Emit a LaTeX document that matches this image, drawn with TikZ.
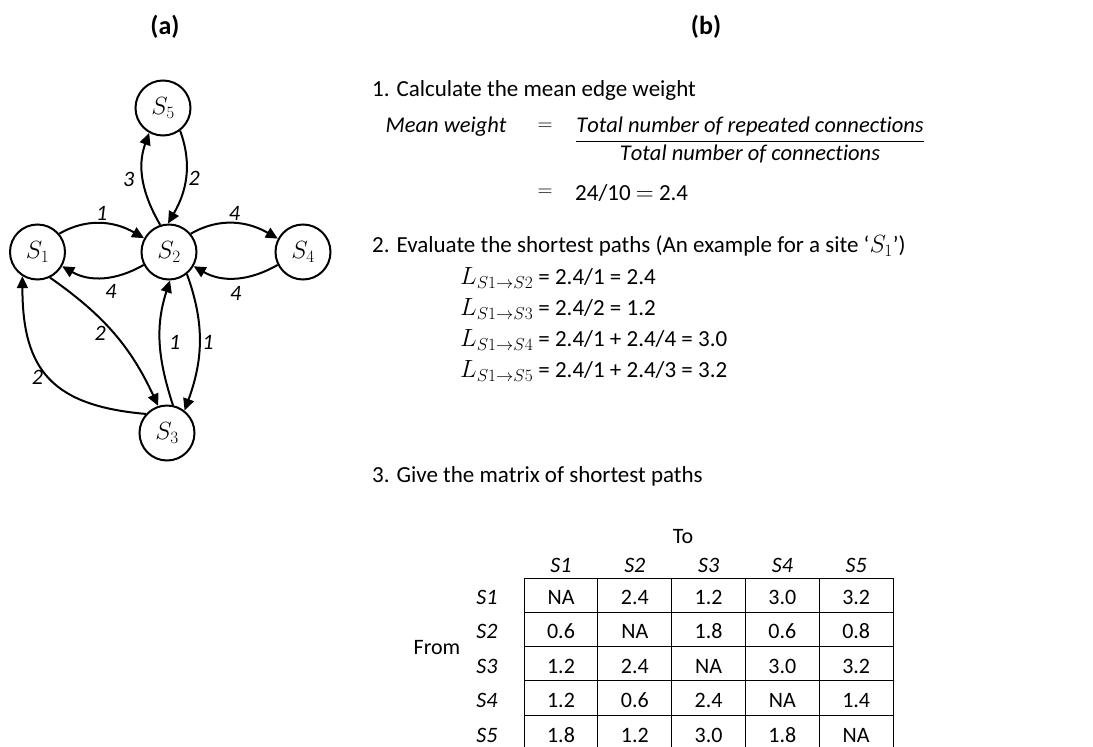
\documentclass[tikz,border=0pt]{standalone}
\usepackage{fontspec}
\setmainfont{Carlito}
\usetikzlibrary{arrows.meta}

\tikzset{
  site/.style={draw, circle, line width=2pt, minimum size=55pt, inner sep=0pt, font=\fontsize{27}{31}\selectfont},
  link/.style={-{Triangle[length=12pt,width=11pt]}, line width=2pt},
  wt/.style={font=\fontsize{22}{26}\selectfont\itshape, inner sep=2pt},
  txt/.style={anchor=west, inner sep=0pt, font=\fontsize{23}{27}\selectfont},
  eqn/.style={inner sep=0pt, font=\fontsize{22.5}{27}\selectfont},
  cell/.style={inner sep=0pt, font=\fontsize{22}{26}\selectfont},
  hdr/.style={inner sep=0pt, font=\fontsize{22}{26}\selectfont\itshape},
  panel/.style={font=\fontsize{26}{30}\selectfont\bfseries}
}

\begin{document}
\begin{tikzpicture}[x=1pt,y=-1pt]
  \useasboundingbox (0,0) rectangle (1093,747);

  \node[panel] (pa) at (165,27) {(a)};
  \node[panel] (pb) at (706,27) {(b)};

  \node[site] (s1) at (37.5,252) {$S_1$};
  \node[site] (s2) at (169,252) {$S_2$};
  \node[site] (s3) at (167,433) {$S_3$};
  \node[site] (s4) at (303,252) {$S_4$};
  \node[site] (s5) at (163,108) {$S_5$};

  \draw[link] (s1.40) to[out=30,in=150] node[wt,above]{1} (s2.151);
  \draw[link] (s2.-153) to[out=-150,in=-30] node[wt,below=5pt,pos=0.4]{4} (s1.-30);
  \draw[link] (s2.40) to[out=30,in=150] node[wt,above]{4} (s4.152);
  \draw[link] (s4.-153) to[out=-150,in=-30] node[wt,below=5pt]{4} (s2.-30);
  \draw[link] (s2.108) to[out=120,in=-110] node[wt,left=6pt]{3} (s5.-119);
  \draw[link] (s5.-53) to[out=-70,in=60] node[wt,right]{2} (s2.92);
  \draw[link] (s1.-64) to[out=-35,in=115] node[wt,left=5pt]{2} (s3.108);
  \draw[link] (s3.138) to[out=175,in=-90,looseness=1.3] node[wt,left=3pt]{2} (s1.-122);
  \draw[link] (s3.78) to[out=108,in=-108] node[wt,right=6pt]{1} (s2.-88);
  \draw[link] (s2.-51) to[out=-70,in=70] node[wt,right]{1} (s3.52);

  \node[txt] (st1) at (372,90) {1. Calculate the mean edge weight};
  \node[eqn] (mw) at (446,127) {$\mathit{Mean\ weight}$};
  \node[eqn] (eq1) at (545,127) {$=$};
  \node[eqn] (frac) at (750,140) {$\displaystyle\frac{\mathit{Total\ number\ of\ repeated\ connections}}{\mathit{Total\ number\ of\ connections}}$};
  \node[eqn] (eq2) at (545,193) {$=$};
  \node[txt] (res) at (575,193) {24/10 $=$ 2.4};

  \node[txt] (st2) at (372,246) {2. Evaluate the shortest paths (An example for a site ‘$S_1$’)};
  \node[txt] (l2) at (460,278) {$L_{S1\to S2}$ = 2.4/1 = 2.4};
  \node[txt] (l3) at (460,309) {$L_{S1\to S3}$ = 2.4/2 = 1.2};
  \node[txt] (l4) at (460,340) {$L_{S1\to S4}$ = 2.4/1 + 2.4/4 = 3.0};
  \node[txt] (l5) at (460,371) {$L_{S1\to S5}$ = 2.4/1 + 2.4/3 = 3.2};

  \node[txt] (st3) at (372,476) {3. Give the matrix of shortest paths};
  \node[cell] (tolab) at (683,537) {To};
  \node[cell] (fromlab) at (437,648) {From};

  \foreach \c in {1,...,5}
    \node[hdr] (h\c) at ({561+73.8*(\c-1)},565) {S\c};
  \foreach \vals [count=\r] in {{NA,2.4,1.2,3.0,3.2},{0.6,NA,1.8,0.6,0.8},{1.2,2.4,NA,3.0,3.2},{1.2,0.6,2.4,NA,1.4},{1.8,1.2,3.0,1.8,NA}}{
    \node[hdr] (r\r) at (487,{597+34.5*(\r-1)}) {S\r};
    \foreach \v [count=\c] in \vals
      \node[cell] (c\r\c) at ({561+73.8*(\c-1)},{597+34.5*(\r-1)}) {\v};
  }
  \foreach \i in {0,...,5} {
    \draw[line width=1pt] ({524+73.8*\i},578) -- ({524+73.8*\i},750);
    \draw[line width=1pt] (524,{578+34.3*\i}) -- (893,{578+34.3*\i});
  }
\end{tikzpicture}
\end{document}
